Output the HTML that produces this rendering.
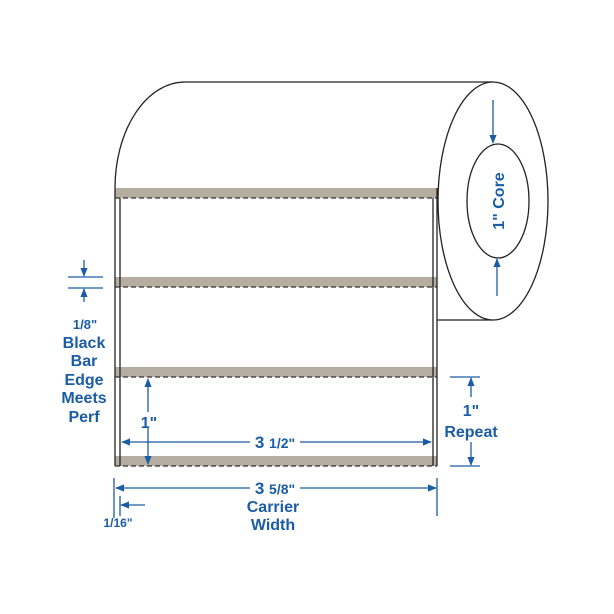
<!DOCTYPE html>
<html><head><style>body{margin:0;background:#fff}svg{display:block}</style></head><body>
<svg width="614" height="614" viewBox="0 0 614 614" xmlns="http://www.w3.org/2000/svg">
<defs>
<marker id="a" viewBox="0 0 10 10" refX="9" refY="5" markerWidth="7" markerHeight="7" orient="auto-start-reverse"><path d="M0,1 L10,5 L0,9 z" fill="#1a5ca5"/></marker>
</defs>
<g fill="none" stroke="#222" stroke-width="1.3">
<path d="M185,82 L493,82"/>
<path d="M185,82 A70,106 0 0 0 115,188"/>
<path d="M437,320 L493,320"/>
<ellipse cx="493" cy="201" rx="55" ry="119" fill="#fff"/>
<ellipse cx="498" cy="201" rx="31" ry="57"/>
</g>
<g fill="#b5ad9f">
<rect x="115" y="188" width="322" height="10"/>
<rect x="115" y="277" width="322" height="10"/>
<rect x="115" y="367" width="322" height="10"/>
<rect x="115" y="456" width="322" height="10"/>
</g>
<g stroke="#222" stroke-width="1.3" fill="none">
<line x1="115" y1="188" x2="115" y2="466"/>
<line x1="120" y1="198" x2="120" y2="466"/>
<line x1="433" y1="198" x2="433" y2="466"/>
<line x1="437" y1="188" x2="437" y2="466"/>
</g>
<g stroke="#333" stroke-width="1.3" stroke-dasharray="5,3">
<line x1="115" y1="198" x2="437" y2="198"/>
<line x1="115" y1="287" x2="437" y2="287"/>
<line x1="115" y1="377" x2="437" y2="377"/>
<line x1="115" y1="466" x2="437" y2="466"/>
</g>
<g stroke="#1a5ca5" stroke-width="1.3" fill="none">
<line x1="68" y1="277" x2="103" y2="277"/>
<line x1="68" y1="288" x2="103" y2="288"/>
<line x1="84" y1="260" x2="84" y2="276" marker-end="url(#a)"/>
<line x1="84" y1="302" x2="84" y2="289" marker-end="url(#a)"/>
<line x1="148" y1="379" x2="148" y2="464" marker-start="url(#a)" marker-end="url(#a)"/>
<line x1="122" y1="442" x2="250" y2="442" marker-start="url(#a)"/>
<line x1="300" y1="442" x2="431" y2="442" marker-end="url(#a)"/>
<line x1="450" y1="377" x2="480" y2="377"/>
<line x1="450" y1="466" x2="480" y2="466"/>
<line x1="471" y1="378" x2="471" y2="397" marker-start="url(#a)"/>
<line x1="471" y1="442" x2="471" y2="465" marker-end="url(#a)"/>
<line x1="114" y1="478" x2="114" y2="518"/>
<line x1="437" y1="478" x2="437" y2="516"/>
<line x1="120" y1="496" x2="120" y2="516"/>
<line x1="116" y1="488" x2="250" y2="488" marker-start="url(#a)"/>
<line x1="300" y1="488" x2="436" y2="488" marker-end="url(#a)"/>
<line x1="145" y1="505" x2="121" y2="505" marker-end="url(#a)"/>
<line x1="493" y1="100" x2="493" y2="143" marker-end="url(#a)"/>
<line x1="497" y1="296" x2="497" y2="259" marker-end="url(#a)"/>
</g>
<g fill="#1a5ca5" font-family="Liberation Sans, sans-serif" font-weight="bold" text-anchor="middle" font-size="16">
<text x="85" y="329" font-size="13">1/8"</text>
<text x="84" y="348">Black</text>
<text x="84" y="366">Bar</text>
<text x="84" y="385">Edge</text>
<text x="84" y="403">Meets</text>
<text x="84" y="422">Perf</text>
<rect x="140" y="412" width="16" height="16" fill="#fff"/>
<text x="149" y="428">1"</text>
<text x="275" y="448" font-size="17">3 <tspan font-size="14">1/2"</tspan></text>
<text x="471" y="416">1"</text>
<text x="471" y="437">Repeat</text>
<text x="275" y="494" font-size="17">3 <tspan font-size="14">5/8"</tspan></text>
<text x="273" y="512">Carrier</text>
<text x="273" y="530">Width</text>
<text x="118" y="527" font-size="12">1/16"</text>
<text x="0" y="0" transform="translate(504,201) rotate(-90)">1" Core</text>
</g>
</svg>
</body></html>
